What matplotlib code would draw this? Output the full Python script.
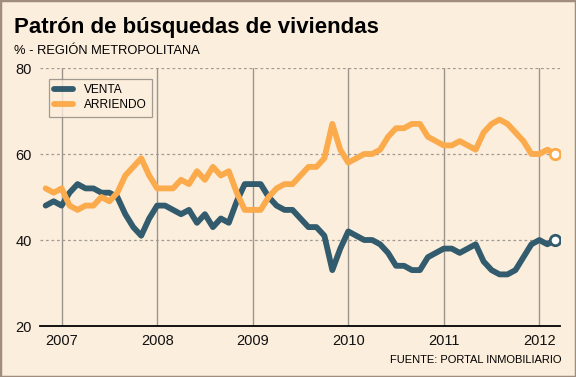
import numpy as np
import pandas as pd
import matplotlib
matplotlib.use('Agg')
import matplotlib.pyplot as plt
from matplotlib.patches import Rectangle

# Monthly search share (%), Nov 2006 - Mar 2012
months = pd.date_range('2006-11-01', '2012-03-01', freq='MS')
venta = [48, 49, 48, 51, 53, 52, 52, 51, 51, 50, 46, 43, 41, 45, 48, 48,
         47, 46, 47, 44, 46, 43, 45, 44, 49, 53, 53, 53, 50, 48, 47, 47,
         45, 43, 43, 41, 33, 38, 42, 41, 40, 40, 39, 37, 34, 34, 33, 33,
         36, 37, 38, 38, 37, 38, 39, 35, 33, 32, 32, 33, 36, 39, 40, 39, 40]
arriendo = [52, 51, 52, 48, 47, 48, 48, 50, 49, 51, 55, 57, 59, 55, 52, 52,
            52, 54, 53, 56, 54, 57, 55, 56, 51, 47, 47, 47, 50, 52, 53, 53,
            55, 57, 57, 59, 67, 61, 58, 59, 60, 60, 61, 64, 66, 66, 67, 67,
            64, 63, 62, 62, 63, 62, 61, 65, 67, 68, 67, 65, 63, 60, 60, 61, 60]
years = [2007, 2008, 2009, 2010, 2011, 2012]
y_ticks = [20, 40, 60, 80]

x = np.asarray(months.year + (months.month - 1) / 12, dtype=float)

bg = '#FCEEDC'
c_venta = '#325B6D'
c_arriendo = '#FBAA4C'

plt.rcParams['font.family'] = ['Liberation Sans', 'DejaVu Sans']

fig = plt.figure(figsize=(5.76, 3.77), dpi=100, facecolor=bg)
ax = fig.add_axes([40 / 576, 1 - 326 / 377, 520 / 576, 258 / 377], facecolor=bg)

ax.set_xlim(2006.774, 2012.216)
ax.set_ylim(20, 80)

# grid
for yr in years:
    ax.axvline(yr, color='#9b958d', lw=1.0, zorder=1)
for v in y_ticks[1:]:
    ax.axhline(v, color='#a09a92', lw=0.9, ls=(0, (2.2, 2.2)), zorder=1)

ax.plot(x, venta, color=c_venta, lw=4.2, solid_joinstyle='round',
        solid_capstyle='round', zorder=3, label='VENTA')
ax.plot(x, arriendo, color=c_arriendo, lw=4.2, solid_joinstyle='round',
        solid_capstyle='round', zorder=3, label='ARRIENDO')
ax.plot(x[-1], venta[-1], 'o', mfc='white', mec=c_venta, ms=7.5, mew=2, zorder=4)
ax.plot(x[-1], arriendo[-1], 'o', mfc='white', mec=c_arriendo, ms=7.5, mew=2, zorder=4)

for s in ['top', 'right', 'left']:
    ax.spines[s].set_visible(False)
ax.spines['bottom'].set_color('black')
ax.spines['bottom'].set_linewidth(1.3)

ax.set_xticks(years)
ax.set_xticklabels([str(y) for y in years])
ax.set_yticks(y_ticks)
ax.tick_params(length=0, labelsize=10.5, colors='#111111')
ax.tick_params(axis='y', pad=6)
ax.tick_params(axis='x', pad=6)

leg = ax.legend(loc='upper left', bbox_to_anchor=(0.017, 0.957), borderaxespad=0,
                frameon=True, fancybox=False, facecolor=bg, edgecolor='#8a8580',
                fontsize=8.6, handlelength=1.6, handletextpad=0.9,
                labelspacing=0.25, borderpad=0.45)
leg.get_frame().set_linewidth(0.9)

fig.text(14 / 576, 1 - 33 / 377, 'Patrón de búsquedas de viviendas',
         fontsize=16, fontweight='bold', va='baseline', ha='left')
fig.text(14 / 576, 1 - 54 / 377, '% - REGIÓN METROPOLITANA',
         fontsize=9.3, va='baseline', ha='left')
fig.text(562 / 576, 1 - 363 / 377, 'FUENTE: PORTAL INMOBILIARIO',
         fontsize=8, va='baseline', ha='right')

fig.add_artist(Rectangle((0, 0), 1, 1, transform=fig.transFigure, fill=False,
                         edgecolor='#A08D7E', lw=2.5))

fig.savefig('out.png', dpi=100, facecolor=bg)
